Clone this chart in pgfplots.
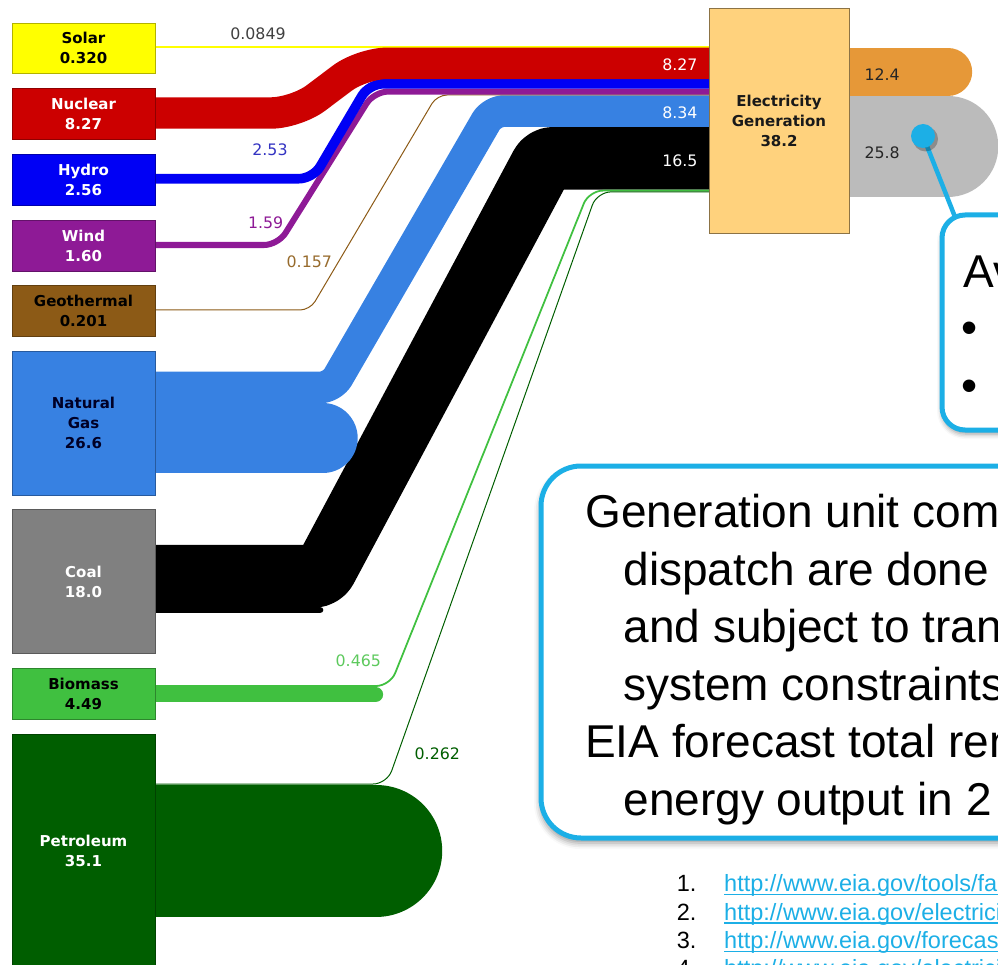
\documentclass[border=0pt]{standalone}
\usepackage{fontspec}
\usepackage{pgfplots}
\pgfplotsset{compat=1.18}
\usetikzlibrary{shadows.blur}
\setmainfont{DejaVu Sans}
\newfontfamily\slidefont{Liberation Sans}

\definecolor{solar}{HTML}{FFFF00}
\definecolor{nuclear}{HTML}{CC0000}
\definecolor{hydro}{HTML}{0000F5}
\definecolor{wind}{HTML}{8E1A96}
\definecolor{geo}{HTML}{8C5A16}
\definecolor{gas}{HTML}{3781E2}
\definecolor{coalbox}{HTML}{808080}
\definecolor{coal}{HTML}{000000}
\definecolor{biomass}{HTML}{40C040}
\definecolor{petro}{HTML}{005E00}
\definecolor{elec}{HTML}{FFD27D}
\definecolor{rejected}{HTML}{BBBBBB}
\definecolor{services}{HTML}{E69838}
\definecolor{callout}{HTML}{1CAFE6}

% flow thickness per unit of energy (hub inputs / hub outputs)
\def\sc{3.8}
\def\so{3.9}

\newcommand\boxlbl{\fontsize{15}{20}\selectfont\bfseries}
\newcommand\flowlbl{\fontsize{15.8}{19}\selectfont}
\newcommand\bigtxt{\slidefont\fontsize{46}{55}\selectfont}
\newcommand\reftxt{\slidefont\fontsize{23.5}{28}\selectfont}

\tikzset{
  flow/.style={no markers, line join=round},
  srcbox/.style={no markers, line width=0.8pt, draw=#1!70!black, fill=#1},
  bl/.style={font=\boxlbl, align=center, anchor=center},
  fl/.style={font=\flowlbl, anchor=center},
  refn/.style={font=\reftxt, anchor=base west, inner sep=0pt},
}

\begin{document}
\begin{tikzpicture}
\path[use as bounding box] (0,0) rectangle (998pt,965pt);
\clip (0,0) rectangle (998pt,965pt);
\begin{axis}[
  at={(0,0)}, anchor=south west,
  width=998pt, height=965pt, scale only axis,
  xmin=0, xmax=998, ymin=0, ymax=965, y dir=reverse,
  hide axis, clip=false,
]
% ---------- flows into the electricity hub ----------
\addplot[flow, draw=solar, line width={max(0.0849*\sc,2)}]
  coordinates {(150,47.2) (712,47.2)};
\addplot[flow, draw=coal, line width={1.5*\sc+1}, line cap=round]
  coordinates {(150,610) (320,610)};
\addplot[flow, draw=coal, line width={16.5*\sc}, rounded corners=8pt]
  coordinates {(150,576.3) (322,576.3) (545,158.3) (712,158.3)};
\addplot[flow, draw=gas, line width={8.34*\sc}, rounded corners=12pt]
  coordinates {(150,387.5) (332,387.5) (492,111.1) (712,111.1)};
\addplot[flow, draw=gas, line width={18.26*\sc}, line cap=round]
  coordinates {(150,438.1) (323,438.1)};
\addplot[flow, draw=geo, line width={max(0.157*\sc,1)}, rounded corners=10pt]
  coordinates {(150,310) (310,310) (437,95) (712,95)};
\addplot[flow, draw=wind, line width={1.59*\sc}, rounded corners=14pt]
  coordinates {(150,245) (278,245) (374,91.6) (712,91.6)};
\addplot[flow, draw=hydro, line width={2.53*\sc}, rounded corners=14pt]
  coordinates {(150,178.7) (313,178.7) (369,83.8) (712,83.8)};
\addplot[flow, draw=nuclear, line width={8.27*\sc}, rounded corners=25pt]
  coordinates {(150,113) (296,113) (362,63.3) (712,63.3)};
\addplot[flow, draw=biomass, line width={max(0.465*\sc,1)}, rounded corners=14pt]
  coordinates {(150,686) (390,686) (589,190.6) (712,190.6)};
\addplot[flow, draw=petro, line width={max(0.262*\sc,1)}, rounded corners=14pt]
  coordinates {(150,784) (387,784) (597,191.9) (712,191.9)};
\addplot[flow, draw=biomass, line width={4.025*\sc}, line cap=round]
  coordinates {(150,694.5) (375.5,694.5)};
\addplot[flow, draw=petro, line width={34.838*\sc}, line cap=round]
  coordinates {(150,850.7) (376,850.7)};
% ---------- flows out of the hub ----------
\addplot[flow, draw=services, line width={12.4*\so}, line cap=round]
  coordinates {(845,71.7) (948,71.7)};
\addplot[flow, draw=rejected, line width={25.8*\so}, line cap=round]
  coordinates {(845,146.2) (948,146.2)};

% ---------- source boxes ----------
\addplot[srcbox=solar]    coordinates {(12,23) (155,23) (155,73) (12,73)} -- cycle;
\addplot[srcbox=nuclear]  coordinates {(12,88) (155,88) (155,139) (12,139)} -- cycle;
\addplot[srcbox=hydro]    coordinates {(12,154) (155,154) (155,205) (12,205)} -- cycle;
\addplot[srcbox=wind]     coordinates {(12,220) (155,220) (155,271) (12,271)} -- cycle;
\addplot[srcbox=geo]      coordinates {(12,285) (155,285) (155,336) (12,336)} -- cycle;
\addplot[srcbox=gas]      coordinates {(12,351) (155,351) (155,495) (12,495)} -- cycle;
\addplot[srcbox=coalbox]  coordinates {(12,509) (155,509) (155,653) (12,653)} -- cycle;
\addplot[srcbox=biomass]  coordinates {(12,668) (155,668) (155,719) (12,719)} -- cycle;
\addplot[srcbox=petro]    coordinates {(12,734) (155,734) (155,990) (12,990)} -- cycle;
\addplot[no markers, line width=0.8pt, draw=elec!55!black, fill=elec]
  coordinates {(709,8) (849,8) (849,233) (709,233)} -- cycle;

% ---------- box labels ----------
\node[bl, text=black] at (83.5,48) {Solar\\0.320};
\node[bl, text=white] at (83.5,113.5) {Nuclear\\8.27};
\node[bl, text=white] at (83.5,179.5) {Hydro\\2.56};
\node[bl, text=white] at (83.5,245.5) {Wind\\1.60};
\node[bl, text=black] at (83.5,310.5) {Geothermal\\0.201};
\node[bl, text=black!85!blue] at (83.5,423) {Natural\\Gas\\26.6};
\node[bl, text=white] at (83.5,582) {Coal\\18.0};
\node[bl, text=black] at (83.5,693.5) {Biomass\\4.49};
\node[bl, text=white] at (83.5,850.5) {Petroleum\\35.1};
\node[bl, text=black!90] at (779,121) {Electricity\\Generation\\38.2};

% ---------- flow values ----------
\node[fl, text=black!75] at (258,34) {0.0849};
\node[fl, text=blue!70!black!80] at (270,149.5) {2.53};
\node[fl, text=wind] at (265.7,222.7) {1.59};
\node[fl, text=geo!90!white] at (309.3,261.7) {0.157};
\node[fl, text=biomass!85!white] at (358.3,661) {0.465};
\node[fl, text=petro] at (437.3,753.3) {0.262};
\node[fl, text=white, anchor=east] at (701,65) {8.27};
\node[fl, text=white, anchor=east] at (701,113) {8.34};
\node[fl, text=white, anchor=east] at (701,161) {16.5};
\node[fl, text=black!85, anchor=west] at (861,75) {12.4};
\node[fl, text=black!85, anchor=west] at (861,153) {25.8};

% ---------- callouts ----------
\draw[callout, line width=4.5pt] (923,136) -- (957,222);
\fill[black, opacity=0.25] (925.5,139) circle[radius=12.5pt];
\fill[callout] (923,136) circle[radius=12pt];
\draw[callout, line width=5pt, fill=white, rounded corners=23pt,
  blur shadow={shadow xshift=0pt, shadow yshift=-4pt, shadow blur radius=5pt, shadow opacity=40}]
  (942,215) rectangle (1080,430);
\node[font=\bigtxt, anchor=base west] at (960,288) {Av};
\node[font=\bigtxt, anchor=base west] at (958,344) {•};
\node[font=\bigtxt, anchor=base west] at (958,401) {•};

\draw[callout, line width=5pt, fill=white, rounded corners=40pt,
  blur shadow={shadow xshift=-1pt, shadow yshift=-5pt, shadow blur radius=6pt, shadow opacity=40}]
  (541,466) rectangle (1120,838);
\node[font=\bigtxt, anchor=base west] at (581.7,527) {Generation unit commitment};
\node[font=\bigtxt, anchor=base west] at (620,585) {dispatch are done by};
\node[font=\bigtxt, anchor=base west] at (620,642) {and subject to transmission};
\node[font=\bigtxt, anchor=base west] at (620,700) {system constraints};
\node[font=\bigtxt, anchor=base west] at (581.7,757) {EIA forecast total renewable};
\node[font=\bigtxt, anchor=base west] at (620,815) {energy output in 2};

% ---------- references ----------
\node[refn] at (676.7,891.7) {1.};
\node[refn, text=callout] at (724,891.7) {http://www.eia.gov/tools/faqs/};
\draw[callout, line width=1.5pt] (724,894.7) -- (1000,894.7);
\node[refn] at (676.7,920) {2.};
\node[refn, text=callout] at (724,920) {http://www.eia.gov/electricity/};
\draw[callout, line width=1.5pt] (724,923) -- (1000,923);
\node[refn] at (676.7,948.3) {3.};
\node[refn, text=callout] at (724,948.3) {http://www.eia.gov/forecasts/};
\draw[callout, line width=1.5pt] (724,951.3) -- (1000,951.3);
\node[refn] at (676.7,976.6) {4.};
\node[refn, text=callout] at (724,976.6) {http://www.eia.gov/electricity/};
\draw[callout, line width=1.5pt] (724,979.6) -- (1000,979.6);
\end{axis}
\end{tikzpicture}
\end{document}
